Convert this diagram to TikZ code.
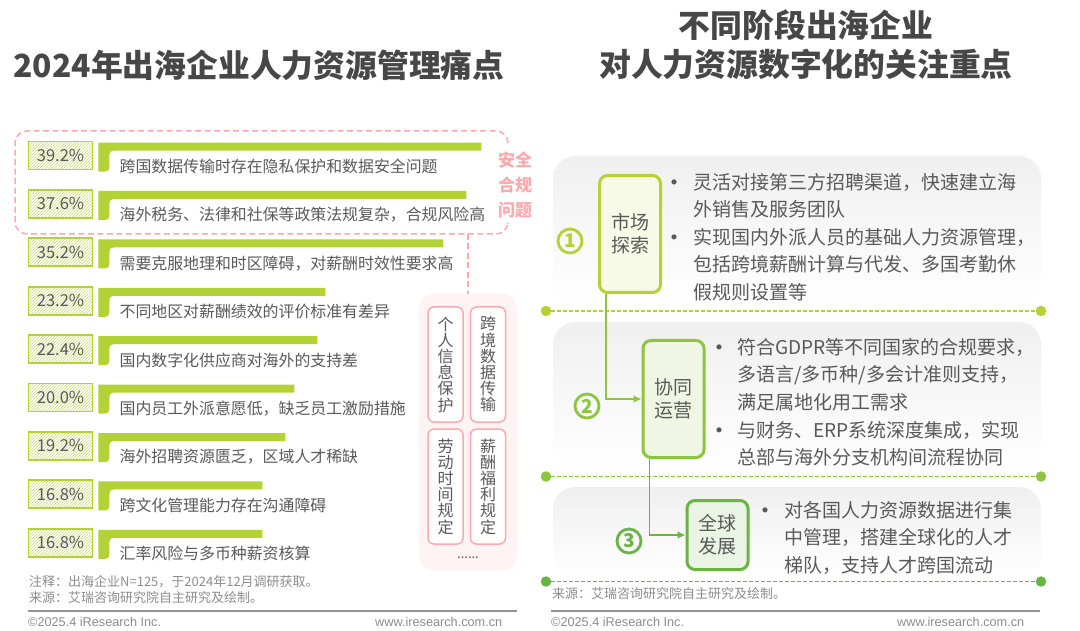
\documentclass[tikz,border=0pt]{standalone}
\usepackage{fontspec}
\usepackage{xcolor}
\setmainfont{Noto Sans CJK SC}
\newfontfamily\footfont{Liberation Sans}
\usetikzlibrary{positioning,calc,patterns,arrows.meta}

\definecolor{barlime}{HTML}{B2D235}
\definecolor{midgreen}{HTML}{8CC63F}
\definecolor{deepgreen}{HTML}{69B445}
\definecolor{pinkline}{HTML}{FFA9AD}
\definecolor{pinkfill}{HTML}{FFF3F3}
\definecolor{bodygray}{HTML}{595959}
\definecolor{notegray}{HTML}{8C8C8C}

\tikzset{
    pagetitle/.style={font=\fontsize{31.8}{39.5}\selectfont\bfseries, text=black!72, align=center, inner sep=0},
    pctbox/.style={draw=barlime, line width=1.8pt, pattern=north east lines, pattern color=barlime!70, minimum width=64pt, minimum height=28pt, inner sep=0, text=bodygray, font=\fontsize{16.5}{18}\selectfont},
    rowtext/.style={font=\fontsize{15.9}{18}\selectfont, text=bodygray, inner sep=0, anchor=west},
    notetext/.style={font=\fontsize{13}{16}\selectfont, text=notegray, inner sep=0, anchor=west},
    foottext/.style={font=\footfont\fontsize{12.7}{15}\selectfont, text=notegray, inner sep=0, anchor=west},
    lawbox/.style={draw=pinkline, line width=1.5pt, fill=white, rounded corners=6pt, minimum width=35pt, minimum height=115pt, inner sep=0, align=center, text=bodygray, font=\fontsize{16}{16.2}\selectfont},
    panel/.style={rounded corners=22pt, top color=black!6, bottom color=white, minimum width=488pt, inner sep=0},
    stagebox/.style={draw=#1, line width=3pt, rounded corners=8pt, minimum width=61pt, inner sep=0, align=center, text=bodygray, font=\fontsize{19}{23}\selectfont},
    stagenum/.style={draw=#1, text=#1, circle, line width=2.8pt, minimum size=24pt, inner sep=0, font=\fontsize{19}{20}\selectfont\bfseries},
    enddot/.style={fill=#1, circle, minimum size=10.5pt, inner sep=0},
    bodytext/.style={font=\fontsize{19}{27.4}\selectfont, text=bodygray, inner sep=0, anchor=north west, align=left},
    dotmark/.style={font=\fontsize{24}{27.4}\selectfont, text=bodygray, inner sep=0, yshift=-4pt},
}

\begin{document}
\begin{tikzpicture}[x=1pt,y=-1pt]
    \useasboundingbox (0,0) rectangle (1080,631);

    % titles
    \node[pagetitle] (ltitle) at (259,65) {2024年出海企业人力资源管理痛点};
    \node[pagetitle] (rtitle) at (806,45) {不同阶段出海企业\\对人力资源数字化的关注重点};

    % left chart rows
    \node[pctbox] (r1) at (60.5,155.5) {39.2\%};
    \fill[barlime] (r1.north east) ++(5,2) -- ++(383,0) -- ++(0,8) [rounded corners=4pt] -- ++(-372,0) -- ++(0,21) [sharp corners] -- ++(-11,0) -- cycle;
    \node[rowtext, right=26pt of r1, yshift=-11pt] (t1) {跨国数据传输时存在隐私保护和数据安全问题};

    \node[pctbox] (r2) at (60.5,203.9) {37.6\%};
    \fill[barlime] (r2.north east) ++(5,2) -- ++(368,0) -- ++(0,8) [rounded corners=4pt] -- ++(-357,0) -- ++(0,21) [sharp corners] -- ++(-11,0) -- cycle;
    \node[rowtext, right=26pt of r2, yshift=-11pt] (t2) {海外税务、法律和社保等政策法规复杂，合规风险高};

    \node[pctbox] (r3) at (60.5,252.3) {35.2\%};
    \fill[barlime] (r3.north east) ++(5,2) -- ++(345,0) -- ++(0,8) [rounded corners=4pt] -- ++(-334,0) -- ++(0,21) [sharp corners] -- ++(-11,0) -- cycle;
    \node[rowtext, right=26pt of r3, yshift=-11pt] (t3) {需要克服地理和时区障碍，对薪酬时效性要求高};

    \node[pctbox] (r4) at (60.5,300.7) {23.2\%};
    \fill[barlime] (r4.north east) ++(5,2) -- ++(227,0) -- ++(0,8) [rounded corners=4pt] -- ++(-216,0) -- ++(0,21) [sharp corners] -- ++(-11,0) -- cycle;
    \node[rowtext, right=26pt of r4, yshift=-11pt] (t4) {不同地区对薪酬绩效的评价标准有差异};

    \node[pctbox] (r5) at (60.5,349.1) {22.4\%};
    \fill[barlime] (r5.north east) ++(5,2) -- ++(219,0) -- ++(0,8) [rounded corners=4pt] -- ++(-208,0) -- ++(0,21) [sharp corners] -- ++(-11,0) -- cycle;
    \node[rowtext, right=26pt of r5, yshift=-11pt] (t5) {国内数字化供应商对海外的支持差};

    \node[pctbox] (r6) at (60.5,397.5) {20.0\%};
    \fill[barlime] (r6.north east) ++(5,2) -- ++(196,0) -- ++(0,8) [rounded corners=4pt] -- ++(-185,0) -- ++(0,21) [sharp corners] -- ++(-11,0) -- cycle;
    \node[rowtext, right=26pt of r6, yshift=-11pt] (t6) {国内员工外派意愿低，缺乏员工激励措施};

    \node[pctbox] (r7) at (60.5,445.9) {19.2\%};
    \fill[barlime] (r7.north east) ++(5,2) -- ++(187,0) -- ++(0,8) [rounded corners=4pt] -- ++(-176,0) -- ++(0,21) [sharp corners] -- ++(-11,0) -- cycle;
    \node[rowtext, right=26pt of r7, yshift=-11pt] (t7) {海外招聘资源匮乏，区域人才稀缺};

    \node[pctbox] (r8) at (60.5,494.3) {16.8\%};
    \fill[barlime] (r8.north east) ++(5,2) -- ++(164,0) -- ++(0,8) [rounded corners=4pt] -- ++(-153,0) -- ++(0,21) [sharp corners] -- ++(-11,0) -- cycle;
    \node[rowtext, right=26pt of r8, yshift=-11pt] (t8) {跨文化管理能力存在沟通障碍};

    \node[pctbox] (r9) at (60.5,542.7) {16.8\%};
    \fill[barlime] (r9.north east) ++(5,2) -- ++(164,0) -- ++(0,8) [rounded corners=4pt] -- ++(-153,0) -- ++(0,21) [sharp corners] -- ++(-11,0) -- cycle;
    \node[rowtext, right=26pt of r9, yshift=-11pt] (t9) {汇率风险与多币种薪资核算};

    % compliance frame
    \draw[pinkline, line width=1.5pt, dash pattern=on 6pt off 3.5pt, rounded corners=12pt] (508,143) -- (508,131) -- (15,131) -- (15,234) -- (508,234) -- (508,224);
    \coordinate (fdrop) at (468,234);
    \node[font=\fontsize{17}{25}\selectfont\bfseries, text=pinkline, align=center, inner sep=0] (ftag) at (515,184.5) {安全\\合规\\问题};

    \node[fill=pinkfill, rounded corners=14pt, minimum width=98pt, minimum height=276pt, inner sep=0] (lawpanel) at (468,432) {};
    \draw[pinkline, line width=1.5pt, dash pattern=on 6pt off 3.5pt] (fdrop) -- (lawpanel.north);
    \node[lawbox] (law1) at (445.5,364.5) {个\\人\\信\\息\\保\\护};
    \node[lawbox] (law2) at (488,364.5) {跨\\境\\数\\据\\传\\输};
    \node[lawbox] (law3) at (445.5,486.5) {劳\\动\\时\\间\\规\\定};
    \node[lawbox] (law4) at (488,486.5) {薪\\酬\\福\\利\\规\\定};
    \node[font=\fontsize{13}{14}\selectfont, text=bodygray, inner sep=0] (lawmore) at (468,558) {......};

    % notes and footer, left
    \node[notetext] (note1) at (29,582) {注释：出海企业N=125，于2024年12月调研获取。};
    \node[notetext] (note2) at (29,598) {来源：艾瑞咨询研究院自主研究及绘制。};
    \draw[black!42, line width=1.6pt] (28,611) -- (517,611);
    \node[foottext] (foot1) at (28,622) {©2025.4 iResearch Inc.};
    \node[foottext] (foot2) at (375,622) {www.iresearch.com.cn};

    % right panels
    \node[panel, minimum height=148pt] (p1) at (797,230) {};
    \node[panel, minimum height=148pt] (p2) at (797,396) {};
    \node[panel, minimum height=90pt] (p3) at (797,532) {};

    \node[enddot=barlime] (d1l) at (546,311) {};
    \node[enddot=barlime] (d1r) at (1041,311) {};
    \draw[barlime, line width=1.7pt, dash pattern=on 4pt off 2pt] (d1l) -- (d1r);
    \node[enddot=midgreen] (d2l) at (546,476.5) {};
    \node[enddot=midgreen] (d2r) at (1041,476.5) {};
    \draw[midgreen, line width=1.7pt, dash pattern=on 4pt off 2pt] (d2l) -- (d2r);
    \node[enddot=deepgreen] (d3l) at (546,581.5) {};
    \node[enddot=deepgreen] (d3r) at (1041,581.5) {};
    \draw[deepgreen, line width=1.7pt, dash pattern=on 4pt off 2pt] (d3l) -- (d3r);

    % stages
    \node[stagebox=barlime, fill=barlime!12, minimum height=117pt] (market) at (630,234) {市场\\探索};
    \node[stagebox=midgreen, fill=midgreen!14, minimum height=117pt] (synergy) at (673.5,399) {协同\\运营};
    \node[stagebox=deepgreen, fill=deepgreen!14, minimum height=69pt] (globe) at (717.5,535) {全球\\发展};
    \node[stagenum=barlime] (n1) at (570,241) {1};
    \node[stagenum=midgreen] (n2) at (587,406) {2};
    \node[stagenum=deepgreen] (n3) at (629,541) {3};

    \draw[midgreen, line width=1.6pt, -{Latex[length=8pt,width=8pt]}] ($(market.south west)+(8,0)$) |- (synergy.west);
    \draw[deepgreen, line width=1.6pt, -{Latex[length=8pt,width=8pt]}] ($(synergy.south west)+(8,0)$) |- (globe.west);

    % stage texts
    \node[dotmark] (m1) at (674,182) {•};
    \node[bodytext] (b1) at (693,173) {灵活对接第三方招聘渠道，快速建立海\\外销售及服务团队};
    \node[dotmark] (m2) at (674,237) {•};
    \node[bodytext] (b2) at (693,228) {实现国内外派人员的基础人力资源管理，\\包括跨境薪酬计算与代发、多国考勤休\\假规则设置等};
    \node[dotmark] (m3) at (719,347) {•};
    \node[bodytext] (b3) at (737,338) {符合GDPR等不同国家的合规要求，\\多语言/多币种/多会计准则支持，\\满足属地化用工需求};
    \node[dotmark] (m4) at (719,430) {•};
    \node[bodytext] (b4) at (737,421) {与财务、ERP系统深度集成，实现\\总部与海外分支机构间流程协同};
    \node[dotmark] (m5) at (765,510) {•};
    \node[bodytext] (b5) at (784,501) {对各国人力资源数据进行集\\中管理，搭建全球化的人才\\梯队，支持人才跨国流动};

    % notes and footer, right
    \node[notetext] (note3) at (552,594) {来源：艾瑞咨询研究院自主研究及绘制。};
    \draw[black!42, line width=1.6pt] (551,611) -- (1040,611);
    \node[foottext] (foot3) at (551,622) {©2025.4 iResearch Inc.};
    \node[foottext] (foot4) at (897,622) {www.iresearch.com.cn};
\end{tikzpicture}
\end{document}
